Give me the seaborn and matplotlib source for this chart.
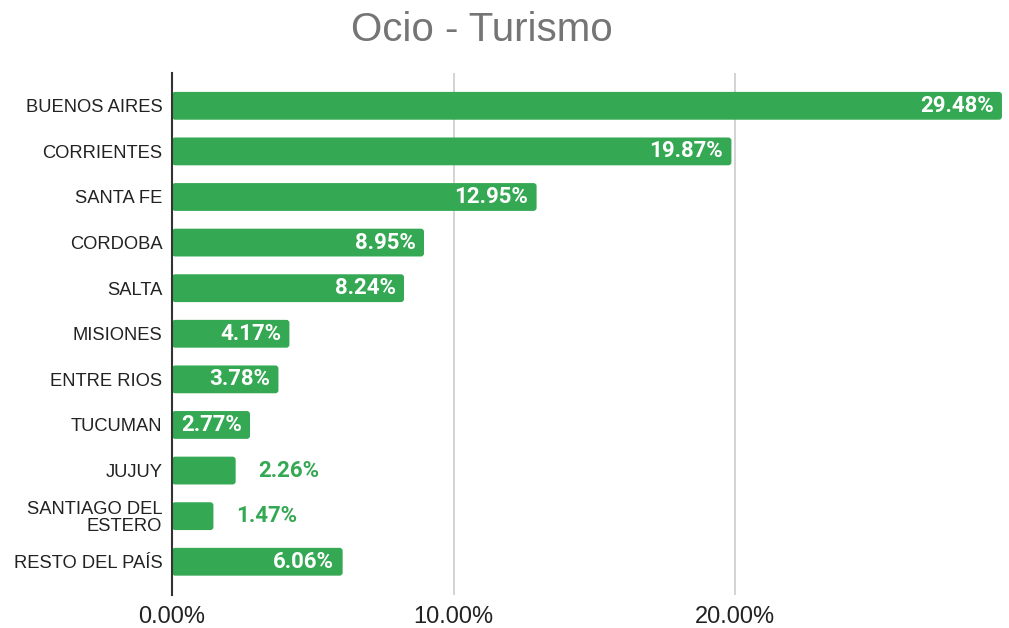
import matplotlib
matplotlib.use("Agg")
import matplotlib.pyplot as plt
import pandas as pd
import seaborn as sns
from matplotlib.patches import FancyBboxPatch
from matplotlib.ticker import FuncFormatter

provincias = ["BUENOS AIRES", "CORRIENTES", "SANTA FE", "CORDOBA", "SALTA", "MISIONES",
              "ENTRE RIOS", "TUCUMAN", "JUJUY", "SANTIAGO DEL\nESTERO", "RESTO DEL PAÍS"]
porcentajes = [29.48, 19.87, 12.95, 8.95, 8.24, 4.17, 3.78, 2.77, 2.26, 1.47, 6.06]
verde = "#34a853"

data = pd.DataFrame({"provincia": provincias, "porcentaje": porcentajes})

sns.set_theme(style="white")
plt.rcParams["font.family"] = ["Liberation Sans", "DejaVu Sans"]

fig = plt.figure(figsize=(10.09, 6.28), dpi=100)
ax = fig.add_axes([0.1705, 0.0525, 0.8225, 0.8313])
sns.barplot(data=data, x="porcentaje", y="provincia", color=verde, saturation=1,
            width=0.61, ax=ax)

# rounded corners for the bars
for p in list(ax.patches):
    x0, y0 = p.get_x(), p.get_y()
    w, h = p.get_width(), p.get_height()
    box = FancyBboxPatch((x0, y0), w, h, boxstyle="round,pad=0,rounding_size=0.11",
                         mutation_aspect=0.62, facecolor=verde, edgecolor="none", zorder=2)
    p.remove()
    ax.add_patch(box)

ax.set_xlim(0, 29.48)
ax.set_ylim(10.73, -0.72)
ax.set_xticks([0, 10, 20])
ax.xaxis.set_major_formatter(FuncFormatter(lambda v, pos: f"{v:.2f}%"))
ax.grid(axis="x", color="#cccccc", linewidth=1.2)
ax.set_axisbelow(True)
ax.set(xlabel="", ylabel="")
for s in ["top", "right", "bottom"]:
    ax.spines[s].set_visible(False)
ax.spines["left"].set_color("#333333")
ax.spines["left"].set_linewidth(1.5)
ax.spines["left"].set_zorder(3)
ax.tick_params(axis="y", length=0, pad=7, labelsize=13.2, labelcolor="#222222")
ax.tick_params(axis="x", length=0, pad=8, labelsize=17, labelcolor="#222222")
for lab in ax.get_yticklabels():
    lab.set_horizontalalignment("right")
    lab.set_multialignment("right")
    lab.set_linespacing(1.0)

for i, v in enumerate(porcentajes):
    if v > 2.5:
        ax.annotate(f"{v:.2f}%", (v, i), xytext=(-6, 0), textcoords="offset points",
                    ha="right", va="center", color="white", fontsize=16,
                    fontweight="bold", family="Roboto", zorder=4)
    else:
        ax.annotate(f"{v:.2f}%", (v, i), xytext=(16, 0), textcoords="offset points",
                    ha="left", va="center", color=verde, fontsize=16,
                    fontweight="bold", family="Roboto", zorder=4)

fig.text(0.478, 0.952, "Ocio - Turismo", ha="center", va="center", fontsize=29,
         color="#757575")

fig.savefig("out.png", dpi=100)
